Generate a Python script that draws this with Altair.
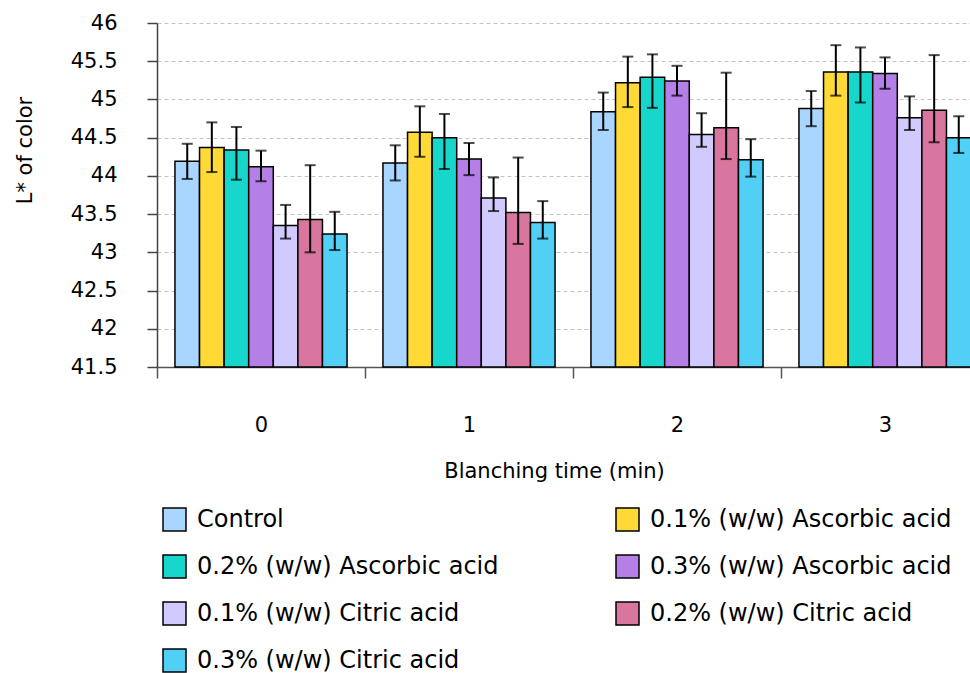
import altair as alt
import pandas as pd

# Blanching time groups (min)
times = ["0", "1", "2", "3"]

# Treatments, in legend / bar order
series = [
    "Control",
    "0.1% (w/w) Ascorbic acid",
    "0.2% (w/w) Ascorbic acid",
    "0.3% (w/w) Ascorbic acid",
    "0.1% (w/w) Citric acid",
    "0.2% (w/w) Citric acid",
    "0.3% (w/w) Citric acid",
]

# Mean L* per treatment at 0, 1, 2, 3 min
l_control = [44.19, 44.17, 44.84, 44.88]
l_asc_01 = [44.37, 44.57, 45.22, 45.36]
l_asc_02 = [44.34, 44.50, 45.29, 45.36]
l_asc_03 = [44.12, 44.22, 45.24, 45.34]
l_cit_01 = [43.35, 43.71, 44.54, 44.76]
l_cit_02 = [43.43, 43.52, 44.63, 44.86]
l_cit_03 = [43.24, 43.39, 44.21, 44.50]

# Upper ends of the error bars
hi_control = [44.42, 44.40, 45.09, 45.11]
hi_asc_01 = [44.70, 44.91, 45.56, 45.71]
hi_asc_02 = [44.64, 44.81, 45.59, 45.68]
hi_asc_03 = [44.33, 44.43, 45.44, 45.55]
hi_cit_01 = [43.62, 43.98, 44.82, 45.04]
hi_cit_02 = [44.14, 44.24, 45.35, 45.58]
hi_cit_03 = [43.53, 43.67, 44.48, 44.78]

# Lower ends of the error bars
lo_control = [43.96, 43.94, 44.60, 44.65]
lo_asc_01 = [44.05, 44.25, 44.90, 45.05]
lo_asc_02 = [43.95, 44.09, 44.89, 44.96]
lo_asc_03 = [43.93, 44.01, 45.05, 45.14]
lo_cit_01 = [43.18, 43.54, 44.38, 44.60]
lo_cit_02 = [43.00, 43.11, 44.22, 44.44]
lo_cit_03 = [43.03, 43.18, 43.99, 44.30]

y_ticks = [41.5, 42, 42.5, 43, 43.5, 44, 44.5, 45, 45.5, 46]

colors = ["#a9d6ff", "#ffd935", "#17d6cc", "#b47fe6", "#d0caff", "#d9769f", "#52cff5"]

means = [l_control, l_asc_01, l_asc_02, l_asc_03, l_cit_01, l_cit_02, l_cit_03]
highs = [hi_control, hi_asc_01, hi_asc_02, hi_asc_03, hi_cit_01, hi_cit_02, hi_cit_03]
lows = [lo_control, lo_asc_01, lo_asc_02, lo_asc_03, lo_cit_01, lo_cit_02, lo_cit_03]

rows = []
for name, m, h, l in zip(series, means, highs, lows):
    for i, t in enumerate(times):
        rows.append({"time": t, "treatment": name, "L": m[i], "hi": h[i], "lo": l[i]})
df = pd.DataFrame(rows)

FONT = "DejaVu Sans"
PLOT_W = 813      # visible part of the plot
FULL_W = 832      # full width of the four groups (last one runs off the edge)
PLOT_H = 344

x_enc = alt.X(
    "time:N",
    sort=times,
    scale=alt.Scale(domain=times, range=[0, FULL_W], paddingInner=0, paddingOuter=0),
    axis=alt.Axis(
        title="Blanching time (min)",
        titleFont=FONT,
        titleFontSize=21,
        titleFontWeight="normal",
        titleColor="black",
        titleX=397,
        titleY=110,
        titleBaseline="alphabetic",
        labelFont=FONT,
        labelFontSize=21,
        labelColor="black",
        labelAngle=0,
        labelPadding=36,
        tickSize=11,
        tickBand="extent",
        tickColor="#555555",
        tickWidth=1.5,
        domainColor="#555555",
        domainWidth=1.5,
        grid=False,
    ),
)
xoff_enc = alt.XOffset(
    "treatment:N",
    sort=series,
    scale=alt.Scale(domain=series, paddingInner=0, paddingOuter=0.73),
)
y_scale = alt.Scale(domain=[41.5, 46], zero=False, nice=False)

bars = alt.Chart(df).mark_bar(stroke="black", strokeWidth=1.5).encode(
    x=x_enc,
    xOffset=xoff_enc,
    y=alt.Y(
        "L:Q",
        scale=y_scale,
        axis=alt.Axis(
            title="L* of color",
            titleFont=FONT,
            titleFontSize=21,
            titleFontWeight="normal",
            titleColor="black",
            titleAngle=270,
            titleX=-132,
            titleY=127,
            titleAlign="center",
            titleBaseline="middle",
            values=y_ticks,
            tickCount=len(y_ticks),
            labelOverlap=False,
            format="~g",
            labelFont=FONT,
            labelFontSize=21,
            labelColor="black",
            labelPadding=30,
            tickSize=10,
            tickColor="#444444",
            tickWidth=1.5,
            domainColor="#444444",
            domainWidth=1.5,
            grid=True,
            gridColor="#c4c4c4",
            gridDash=[4, 3],
            gridWidth=1,
        ),
    ),
    y2=alt.datum(41.5),
    color=alt.Color(
        "treatment:N",
        sort=series,
        scale=alt.Scale(domain=series, range=colors),
        legend=alt.Legend(
            orient="none",
            legendX=5,
            legendY=484,
            direction="horizontal",
            columns=2,
            title=None,
            symbolType="square",
            symbolSize=529,
            symbolStrokeColor="black",
            symbolStrokeWidth=1.5,
            symbolOpacity=1,
            labelFont=FONT,
            labelFontSize=24,
            labelColor="black",
            labelOffset=10,
            labelLimit=500,
            rowPadding=18,
            columnPadding=114,
            padding=0,
        ),
    ),
)

err_rule = alt.Chart(df).mark_rule(color="black", strokeWidth=2).encode(
    x=alt.X("time:N", sort=times),
    xOffset=alt.XOffset("treatment:N", sort=series),
    y=alt.Y("lo:Q", scale=y_scale),
    y2="hi:Q",
)

cap_hi = alt.Chart(df).mark_tick(color="black", thickness=2, size=11).encode(
    x=alt.X("time:N", sort=times),
    xOffset=alt.XOffset("treatment:N", sort=series),
    y=alt.Y("hi:Q", scale=y_scale),
)

cap_lo = alt.Chart(df).mark_tick(color="black", thickness=2, size=11).encode(
    x=alt.X("time:N", sort=times),
    xOffset=alt.XOffset("treatment:N", sort=series),
    y=alt.Y("lo:Q", scale=y_scale),
)

chart = (
    alt.layer(bars, err_rule, cap_hi, cap_lo)
    .properties(
        width=PLOT_W,
        height=PLOT_H,
        autosize=alt.AutoSizeParams(type="none"),
        padding={"left": 157, "top": 23, "right": 0, "bottom": 306},
        background="white",
    )
    .configure_view(stroke=None)
)

chart.save("out.html", embed_options={"renderer": "svg", "actions": False})
